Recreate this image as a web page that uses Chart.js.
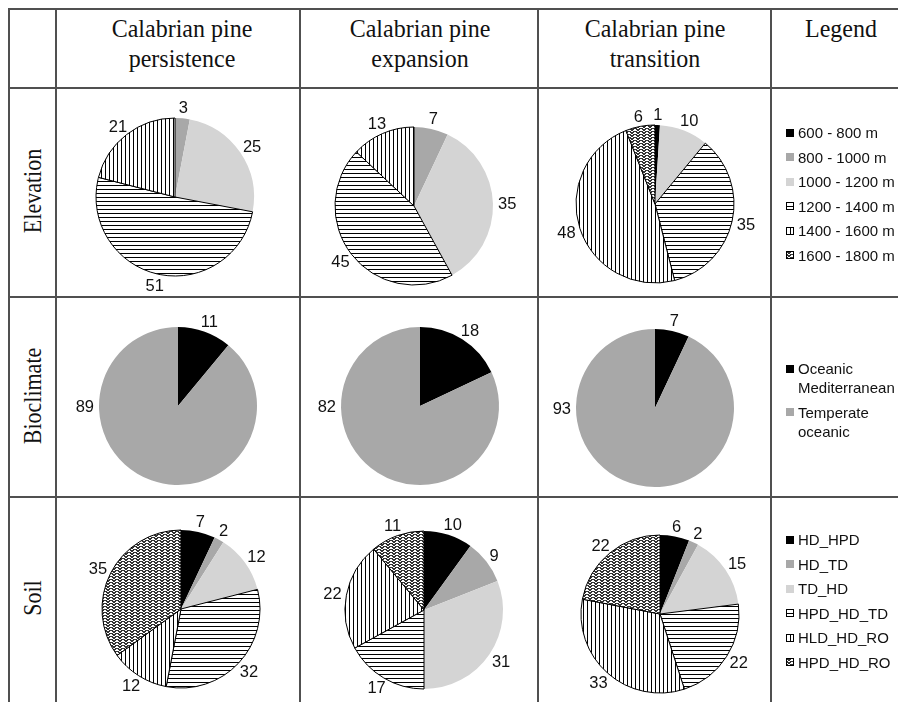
<!DOCTYPE html>
<html><head><meta charset="utf-8">
<script src="https://cdn.jsdelivr.net/npm/chart.js@4.4.1/dist/chart.umd.min.js"></script>
<style>
html,body{margin:0;padding:0;background:#fff;}
#root{position:relative;width:898px;height:702px;overflow:hidden;background:#fff;}
.hl{position:absolute;height:2px;background:#505050;}
.vl{position:absolute;width:2px;background:#505050;}
.hdr{position:absolute;font-family:"Liberation Serif","Times New Roman",serif;font-size:24px;color:#111;text-align:center;line-height:28px;white-space:nowrap;transform:translateX(-50%) scaleY(1.08);transform-origin:50% 0;}
.rowlab{position:absolute;font-family:"Liberation Serif","Times New Roman",serif;font-size:22px;color:#111;white-space:nowrap;transform:translate(-50%,-50%) rotate(-90deg) scaleY(1.12);}
.cell{position:absolute;}
.leg{position:absolute;font-family:"Liberation Sans",Arial,sans-serif;font-size:15px;color:#111;}
.li{display:flex;align-items:flex-start;margin-bottom:5.5px;}
.li canvas{margin-top:5.5px;margin-right:4px;flex:none;}
.li div{line-height:19px;width:100px;}
</style></head>
<body><div id="root"></div>
<script>
// ---------- DATA ----------
const columnTitles = [["Calabrian pine","persistence"],["Calabrian pine","expansion"],["Calabrian pine","transition"],["Legend"]];
const rowTitles = ["Elevation","Bioclimate","Soil"];

const elevationCategories = ["600 - 800 m","800 - 1000 m","1000 - 1200 m","1200 - 1400 m","1400 - 1600 m","1600 - 1800 m"];
const elevationPersistence = [0,3,25,51,21,0];
const elevationExpansion   = [0,7,35,45,13,0];
const elevationTransition  = [1,0,10,35,48,6];

const bioclimateCategories = ["Oceanic Mediterranean","Temperate oceanic"];
const bioclimatePersistence = [11,89];
const bioclimateExpansion   = [18,82];
const bioclimateTransition  = [7,93];

const soilCategories = ["HD_HPD","HD_TD","TD_HD","HPD_HD_TD","HLD_HD_RO","HPD_HD_RO"];
const soilPersistence = [7,2,12,32,12,35];
const soilExpansion   = [10,9,31,17,22,11];
const soilTransition  = [6,2,15,22,33,22];

// ---------- STYLE ----------
const sixKinds = ["black","gray","light","hstripe","vstripe","zigzag"];
const twoKinds = ["black","gray"];

function makePattern(kind){
  const c=document.createElement('canvas'); const g=c.getContext('2d');
  if(kind==='hstripe'){c.width=4;c.height=4;g.fillStyle='#fff';g.fillRect(0,0,4,4);g.fillStyle='#000';g.fillRect(0,0,4,1);}
  else if(kind==='vstripe'){c.width=4;c.height=4;g.fillStyle='#fff';g.fillRect(0,0,4,4);g.fillStyle='#000';g.fillRect(0,0,1,4);}
  else {c.width=6;c.height=3;g.fillStyle='#fff';g.fillRect(0,0,6,3);g.fillStyle='#333';
    [[0,0],[1,0],[4,0],[5,0],[1,1],[2,1],[3,1],[4,1],[2,2],[3,2]].forEach(p=>g.fillRect(p[0],p[1],1,1));}
  return g.createPattern(c,'repeat');
}
const fills = {black:'#000000', gray:'#a8a8a8', light:'#d4d4d4',
  hstripe:makePattern('hstripe'), vstripe:makePattern('vstripe'), zigzag:makePattern('zigzag')};
const isPattern = k => k==='hstripe'||k==='vstripe'||k==='zigzag';

const root=document.getElementById('root');
function el(cls,style,html){const d=document.createElement('div');d.className=cls;Object.assign(d.style,style);if(html!==undefined)d.innerHTML=html;root.appendChild(d);return d;}

// ---------- GRID ----------
const hLines=[9,88,297,497], vLines=[9,56,300,538,771];
hLines.forEach(y=>el('hl',{left:'9px',top:(y-1)+'px',width:'889px'}));
vLines.forEach(x=>el('vl',{left:(x-1)+'px',top:'8px',height:'694px'}));

// headers
const headerCenters=[182,420,655,841];
columnTitles.forEach((t,i)=>el('hdr',{left:headerCenters[i]+'px',top:'13px'},t.join('<br>')));
const rowCenters=[191,396,598];
rowTitles.forEach((t,i)=>el('rowlab',{left:'33px',top:rowCenters[i]+'px'},t));

// ---------- PIES ----------
const colRanges=[[57,299],[301,537],[539,770]];
const rowRanges=[[89,296],[298,496],[498,702]];
const pieCenters=[
  [[175,197],[414,206],[655,204]],
  [[178,406],[420,406],[655,408]],
  [[181,609],[424,610],[660,614]]
];
const RADIUS=79;

// Outside-end data labels with a simple "best fit" rule
const labelPlugin={
  id:'outLabels',
  afterDatasetsDraw(chart){
    const ctx=chart.ctx, meta=chart.getDatasetMeta(0), data=chart.data.datasets[0].data;
    const total=data.reduce((s,v)=>s+v,0);
    const W=chart.width, H=chart.height, m=3, gap=5, h=12;
    ctx.save();
    ctx.font='16.5px "Liberation Sans", Arial, sans-serif';
    ctx.fillStyle='#111'; ctx.textAlign='center'; ctx.textBaseline='alphabetic';
    meta.data.forEach((arc,i)=>{
      const v=data[i]; if(!v) return;
      const p0=arc.getProps(['x','y','startAngle','endAngle','outerRadius'],true);
      const text=String(v), w=ctx.measureText(text).width;
      const place=a=>{const ux=Math.cos(a),uy=Math.sin(a);
        const px=p0.x+(p0.outerRadius+gap)*ux, py=p0.y+(p0.outerRadius+gap)*uy;
        return {cx:px+ux*w/2, cy:py+uy*h/2};};
      const fits=p=>p.cx-w/2>=m&&p.cx+w/2<=W-m&&p.cy-h/2>=m&&p.cy+h/2<=H-m;
      let a=(p0.startAngle+p0.endAngle)/2;
      let n=Math.atan2(Math.sin(a),Math.cos(a));
      if(v/total>0.75){ // dominant slice: label on the horizontal side it covers
        n=Math.abs(n)<Math.PI/2?0:Math.PI;
      }
      let p=place(n);
      if(!fits(p)){
        const target=Math.abs(n)<Math.PI/2?0:(n>0?Math.PI:-Math.PI);
        const step=(target>n?1:-1)*Math.PI/360;
        let b=n;
        while(!fits(place(b)) && Math.abs(target-b)>Math.abs(step)){b+=step;}
        p=place(b);
      }
      ctx.fillText(text,p.cx,p.cy+h/2);
    });
    ctx.restore();
  }
};

function makePie(r,c,values,kinds,cats){
  const [x0,x1]=colRanges[c],[y0,y1]=rowRanges[r];
  const W=x1-x0, H=y1-y0;
  const cell=el('cell',{left:x0+'px',top:y0+'px',width:W+'px',height:H+'px'});
  const cv=document.createElement('canvas'); cv.width=W; cv.height=H; cv.style.width=W+'px'; cv.style.height=H+'px';
  cell.appendChild(cv);
  const [CX,CY]=pieCenters[r][c];
  const cx=CX-x0, cy=CY-y0;
  const hw=Math.min(cx,W-cx), hh=Math.min(cy,H-cy);
  new Chart(cv,{
    type:'pie',
    data:{labels:cats,datasets:[{
      data:values,
      backgroundColor:kinds.map(k=>fills[k]),
      borderColor:'#000',
      borderWidth:ctx=>(ctx.raw>0&&isPattern(kinds[ctx.dataIndex]))?1:0,
      radius:RADIUS
    }]},
    options:{responsive:false,animation:false,devicePixelRatio:1,events:[],
      layout:{padding:{left:cx-hw,right:W-cx-hw,top:cy-hh,bottom:H-cy-hh}},
      plugins:{legend:{display:false},tooltip:{enabled:false}}},
    plugins:[labelPlugin]
  });
}
const rowsData=[
  {cats:elevationCategories,kinds:sixKinds,series:[elevationPersistence,elevationExpansion,elevationTransition]},
  {cats:bioclimateCategories,kinds:twoKinds,series:[bioclimatePersistence,bioclimateExpansion,bioclimateTransition]},
  {cats:soilCategories,kinds:sixKinds,series:[soilPersistence,soilExpansion,soilTransition]}
];
rowsData.forEach((rd,r)=>rd.series.forEach((vals,c)=>makePie(r,c,vals,rd.kinds,rd.cats)));

// ---------- LEGENDS ----------
const legendCenters=[194,400,601];
rowsData.forEach((rd,r)=>{
  const box=el('leg',{left:'786px',top:'0px'});
  rd.cats.forEach((name,i)=>{
    const it=document.createElement('div'); it.className='li';
    const sw=document.createElement('canvas'); sw.width=8; sw.height=8;
    const g=sw.getContext('2d'); const k=rd.kinds[i];
    g.fillStyle=fills[k]; g.fillRect(0,0,8,8);
    if(isPattern(k)){g.strokeStyle='#000';g.lineWidth=1;g.strokeRect(0.5,0.5,7,7);}
    const tx=document.createElement('div'); tx.textContent=name;
    it.appendChild(sw); it.appendChild(tx); box.appendChild(it);
  });
  const hgt=box.offsetHeight-5.5;
  box.style.top=(legendCenters[r]-hgt/2)+'px';
});
</script>
</body></html>
